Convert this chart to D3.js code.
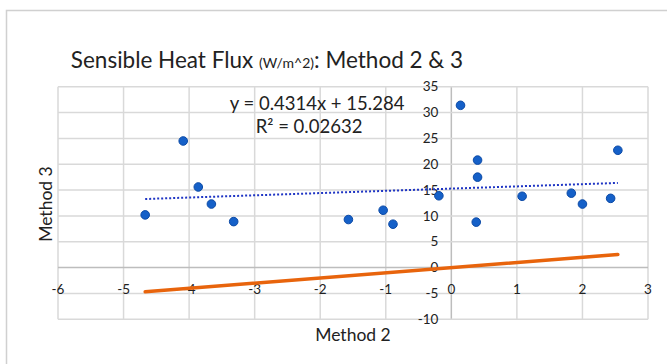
<!DOCTYPE html>
<html>
<head>
<meta charset="utf-8">
<script src="https://cdn.jsdelivr.net/npm/d3@7"></script>
<style>
  body { margin: 0; background: #fff; }
  text { font-family: Lato, "Open Sans", sans-serif; fill: #222; }
</style>
</head>
<body>
<div id="chart"></div>
<script>
// DATA
var method2 = [-4.67, -4.09, -3.86, -3.66, -3.32, -1.57, -1.04, -0.89, -0.19, 0.14, 0.40, 0.40, 0.38, 1.08, 1.83, 2.00, 2.43, 2.54];
var method3 = [10.2, 24.5, 15.6, 12.3, 8.9, 9.3, 11.1, 8.4, 13.9, 31.4, 20.8, 17.5, 8.8, 13.8, 14.4, 12.3, 13.4, 22.7];
var xTicks = [-6, -5, -4, -3, -2, -1, 0, 1, 2, 3];
var yTicks = [-10, -5, 0, 5, 10, 15, 20, 25, 30, 35];
var slope = 0.4314, intercept = 15.284;
var eqLabel = "y = 0.4314x + 15.284";
var r2Label = "R² = 0.02632";

var width = 667, height = 364;

var svg = d3.select("#chart").append("svg")
    .attr("width", width)
    .attr("height", height);

// chart border (only left/top visible)
svg.append("rect")
    .attr("x", 6.5).attr("y", 10.5)
    .attr("width", 720).attr("height", 400)
    .attr("fill", "none")
    .attr("stroke", "#d0d0d0")
    .attr("stroke-width", 1.5);

var xScale = d3.scaleLinear().domain([-6, 3]).range([58, 648]);
var yScale = d3.scaleLinear().domain([-10, 35]).range([319.3, 86.7]);

// gridlines
svg.append("g").selectAll("line.v")
   .data(xTicks)
   .enter()
   .append("line")
   .attr("x1", function(d) { return xScale(d); })
   .attr("x2", function(d) { return xScale(d); })
   .attr("y1", yScale(35))
   .attr("y2", yScale(-10))
   .attr("stroke", function(d) { return d === 0 ? "#bdbdbd" : "#d9d9d9"; })
   .attr("stroke-width", 1.5);

svg.append("g").selectAll("line.h")
   .data(yTicks)
   .enter()
   .append("line")
   .attr("x1", xScale(-6))
   .attr("x2", xScale(3))
   .attr("y1", function(d) { return yScale(d); })
   .attr("y2", function(d) { return yScale(d); })
   .attr("stroke", function(d) { return d === 0 ? "#bdbdbd" : "#d9d9d9"; })
   .attr("stroke-width", 1.5);

// tick labels
svg.append("g").selectAll("text")
   .data(yTicks)
   .enter()
   .append("text")
   .attr("x", xScale(0) - 13)
   .attr("y", function(d) { return yScale(d); })
   .attr("dy", "0.35em")
   .attr("text-anchor", "end")
   .attr("font-size", "13.5px")
   .text(function(d) { return d; });

svg.append("g").selectAll("text")
   .data(xTicks)
   .enter()
   .append("text")
   .attr("x", function(d) { return xScale(d); })
   .attr("y", yScale(0) + 22)
   .attr("dy", "0.35em")
   .attr("text-anchor", "middle")
   .attr("font-size", "13.5px")
   .text(function(d) { return d; });

// 1:1 line
var xExt = d3.extent(method2);
svg.append("line")
   .attr("x1", xScale(xExt[0])).attr("y1", yScale(xExt[0]))
   .attr("x2", xScale(xExt[1])).attr("y2", yScale(xExt[1]))
   .attr("stroke", "#e8640c")
   .attr("stroke-width", 3.5)
   .attr("stroke-linecap", "round");

// linear trendline
svg.append("line")
   .attr("x1", xScale(xExt[0])).attr("y1", yScale(slope * xExt[0] + intercept))
   .attr("x2", xScale(xExt[1])).attr("y2", yScale(slope * xExt[1] + intercept))
   .attr("stroke", "#1f35c4")
   .attr("stroke-width", 2)
   .attr("stroke-dasharray", "2 2");

// points
svg.append("g").selectAll("circle")
   .data(method2)
   .enter()
   .append("circle")
   .attr("cx", function(d) { return xScale(d); })
   .attr("cy", function(d, i) { return yScale(method3[i]); })
   .attr("r", 4.3)
   .attr("fill", "#1560c8")
   .attr("stroke", "#0c4aa6")
   .attr("stroke-width", 1);

// equation
svg.append("text")
   .attr("x", 317).attr("y", 104)
   .attr("dy", "0.35em")
   .attr("text-anchor", "middle")
   .attr("font-size", "18.5px")
   .text(eqLabel);
svg.append("text")
   .attr("x", 309).attr("y", 127)
   .attr("dy", "0.35em")
   .attr("text-anchor", "middle")
   .attr("font-size", "18.5px")
   .text(r2Label);

// title
var title = svg.append("text")
   .attr("x", 267).attr("y", 68)
   .attr("text-anchor", "middle")
   .attr("font-size", "22.5px");
title.append("tspan").text("Sensible Heat Flux ");
title.append("tspan").attr("font-size", "14px").text("(W/m^2)");
title.append("tspan").text(": Method 2 & 3");

// axis titles
svg.append("text")
   .attr("x", 353).attr("y", 335)
   .attr("dy", "0.35em")
   .attr("text-anchor", "middle")
   .attr("font-size", "17.5px")
   .text("Method 2");

svg.append("text")
   .attr("transform", "translate(46,204) rotate(-90)")
   .attr("dy", "0.35em")
   .attr("text-anchor", "middle")
   .attr("font-size", "17.5px")
   .text("Method 3");
</script>
</body>
</html>
